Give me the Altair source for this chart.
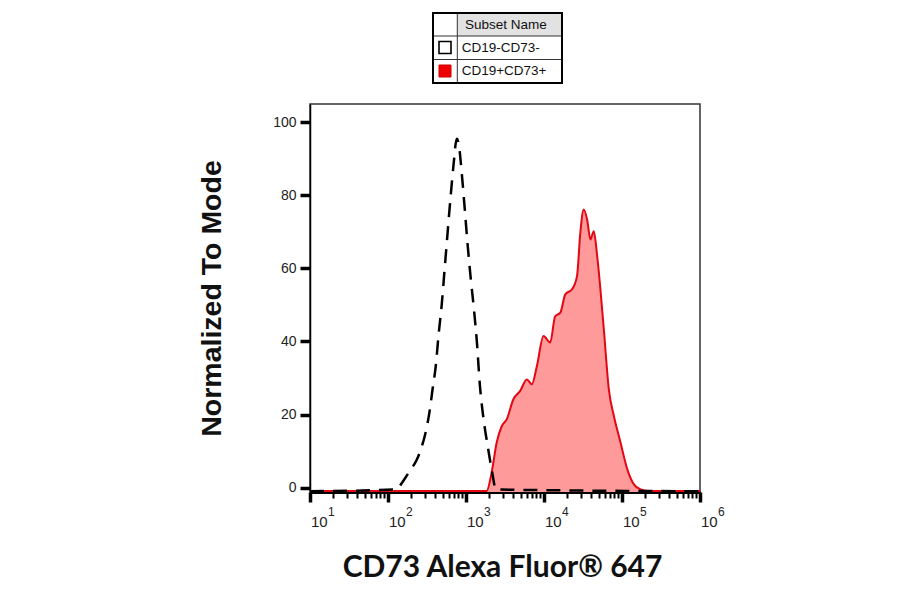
import altair as alt
import pandas as pd

# ---------------- data ----------------
# CD19-CD73- (black dashed histogram)
neg_x = [10, 128, 153, 189, 232, 269, 303, 342, 373, 408, 446, 488, 533, 582, 637,
         697, 760, 807, 883, 966, 1054, 1153, 1262, 1377, 1507, 1698, 1910, 2153,
         2421, 1000000]
neg_y = [-1, -0.5, 1.5, 4.5, 7.5, 11, 15, 21, 27, 33, 42, 50, 60, 70, 80,
         89, 95.5, 94, 86, 76, 66, 57, 49, 40, 28, 18, 11, 4.5,
         -0.5, -1]

# CD19+CD73+ (red filled histogram)
pos_x = [10, 1840, 2130, 2470, 2870, 3330, 4050, 4930, 6030, 6980, 8110, 9860,
         12000, 13900, 16200, 18750, 22900, 26500, 29200, 32300, 35700, 39400,
         43500, 48100, 58500, 67800, 78700, 95900, 117000, 142000, 174000,
         212000, 1000000]
pos_y = [-0.9, -0.9, 4.1, 12.3, 16.8, 18.7, 24.2, 26.4, 29.6, 28.3, 33.3, 41.5,
         39.7, 46.9, 47.9, 52.9, 54.3, 57.9, 69.7, 76.1, 73.4, 67.9,
         70.2, 63.3, 43.3, 26.9, 19.6, 12.3, 5.0, 0.9, -0.5,
         -0.9, -0.9]

subset_names = ["CD19-CD73-", "CD19+CD73+"]
legend_title = "Subset Name"
decades = [10, 100, 1000, 10000, 100000, 1000000]
exponents = ["1", "2", "3", "4", "5", "6"]
y_ticks = list(range(0, 101, 5))
x_ticks = [m * d for d in decades[:-1] for m in range(1, 10)] + [decades[-1]]

x_title = "CD73 Alexa Fluor® 647"
y_title = "Normalized To Mode"

RED_LINE = "#e30613"
RED_FILL = "#ff9a9a"

neg = pd.DataFrame({"x": neg_x, "y": neg_y, "subset": subset_names[0]})
pos = pd.DataFrame({"x": pos_x, "y": pos_y, "subset": subset_names[1]})
dec = pd.DataFrame({"x": decades, "e": exponents, "b": ["10"] * len(decades)})
one = pd.DataFrame({"k": [0]})

W, H = 390, 388

xscale = alt.Scale(type="log", domain=[10, 1000000], nice=False)
yscale = alt.Scale(domain=[-1.2, 105], nice=False, zero=False)

is_decade = "abs(log(datum.value)/LN10 - round(log(datum.value)/LN10)) < 0.001"
is_major_y = "datum.value % 20 == 0"

x_axis = alt.Axis(
    values=x_ticks, labels=False, grid=False,
    domainColor="black", domainWidth=3,
    tickColor="black",
    tickWidth={"condition": {"test": is_decade, "value": 3.5}, "value": 2},
    tickSize={"condition": {"test": is_decade, "value": 10}, "value": 6},
    title=x_title, titleFont="Lato", titleFontSize=30, titleFontWeight="bold",
    titleColor="#111", titleX=192, titleY=75, titleAlign="center",
    titleBaseline="middle",
)
y_axis = alt.Axis(
    values=y_ticks, grid=False,
    labelExpr="datum.value % 20 == 0 ? datum.label : ''",
    labelFont="Liberation Sans", labelFontSize=14, labelColor="#222",
    labelPadding=4,
    domainColor="black", domainWidth=1.5,
    tickColor="black",
    tickWidth={"condition": {"test": is_major_y, "value": 3.5}, "value": 2},
    tickSize={"condition": {"test": is_major_y, "value": 10}, "value": 6},
    title=y_title, titleFont="Liberation Sans", titleFontSize=28.5,
    titleFontWeight="bold", titleColor="#111",
    titleX=-99, titleY=194, titleAngle=270, titleAlign="center",
    titleBaseline="middle",
)

area = alt.Chart(pos).mark_area(
    fill=RED_FILL, opacity=1, clip=True, interpolate="monotone"
).encode(
    x=alt.X("x:Q", scale=xscale, axis=x_axis),
    y=alt.Y("y:Q", scale=yscale, axis=y_axis),
    y2=alt.datum(-1.2),
)
red_line = alt.Chart(pos).mark_line(
    color=RED_LINE, strokeWidth=2, clip=True, interpolate="monotone"
).encode(
    x=alt.X("x:Q", scale=xscale),
    y=alt.Y("y:Q", scale=yscale),
)
black_line = alt.Chart(neg).mark_line(
    color="black", strokeWidth=2.5, strokeDash=[14, 9], clip=True,
    interpolate="monotone"
).encode(
    x=alt.X("x:Q", scale=xscale),
    y=alt.Y("y:Q", scale=yscale),
)

# x tick labels: "10" with raised exponent
base_lbl = alt.Chart(dec).mark_text(
    align="left", baseline="alphabetic", dx=1, font="Liberation Sans",
    fontSize=15, color="#222"
).encode(x=alt.X("x:Q", scale=xscale), y=alt.value(H + 35), text="b:N")
exp_lbl = alt.Chart(dec).mark_text(
    align="left", baseline="alphabetic", dx=18, font="Liberation Sans",
    fontSize=12, color="#222"
).encode(x=alt.X("x:Q", scale=xscale), y=alt.value(H + 24), text="e:N")

# ---------------- legend table ----------------
TL, TR, TD = 123, 252, 147.3         # left, right, column divider
ROWS = [-91, -68, -44.5, -21]        # row boundaries


def rect(x, x2, y, y2, **kw):
    return alt.Chart(one).mark_rect(**kw).encode(
        x=alt.value(x), x2=alt.value(x2), y=alt.value(y), y2=alt.value(y2))


def rule(x, x2, y, y2, **kw):
    return alt.Chart(one).mark_rule(**kw).encode(
        x=alt.value(x), x2=alt.value(x2), y=alt.value(y), y2=alt.value(y2))


def label(txt, x, y, **kw):
    return alt.Chart(one).mark_text(
        align="left", baseline="middle", font="Liberation Sans", fontSize=13.5,
        color="#111", text=txt, **kw).encode(x=alt.value(x), y=alt.value(y))


legend_layers = [
    rect(TL, TR, ROWS[0], ROWS[3], fill="white"),
    rect(TD, TR, ROWS[0], ROWS[1], fill="#e2e2e2"),
    rule(TD, TD, ROWS[0], ROWS[3], color="#333", strokeWidth=1),
    rule(TL, TR, ROWS[1], ROWS[1], color="#333", strokeWidth=1),
    rule(TL, TR, ROWS[2], ROWS[2], color="#333", strokeWidth=1),
    rect(TL, TR, ROWS[0], ROWS[3], fill=None, fillOpacity=0, stroke="black",
         strokeWidth=2),
    label(legend_title, 155, (ROWS[0] + ROWS[1]) / 2),
    rect(129, 141, -62.5, -50.5, fill="white", stroke="black", strokeWidth=1.6),
    label(subset_names[0], 151.7, (ROWS[1] + ROWS[2]) / 2),
    rect(129, 141, -39, -27, fill="#ee0000", stroke="#d00000", strokeWidth=1),
    label(subset_names[1], 151.7, (ROWS[2] + ROWS[3]) / 2),
]

chart = alt.layer(
    area, red_line, black_line, base_lbl, exp_lbl, *legend_layers
).properties(
    width=W, height=H,
    autosize=alt.AutoSizeParams(type="none"),
    padding={"left": 302, "top": 96, "right": 188, "bottom": 90},
    background="white",
).configure_view(stroke="#333", strokeWidth=1.5)

chart.save("out.html", embed_options={"renderer": "svg", "actions": False})
